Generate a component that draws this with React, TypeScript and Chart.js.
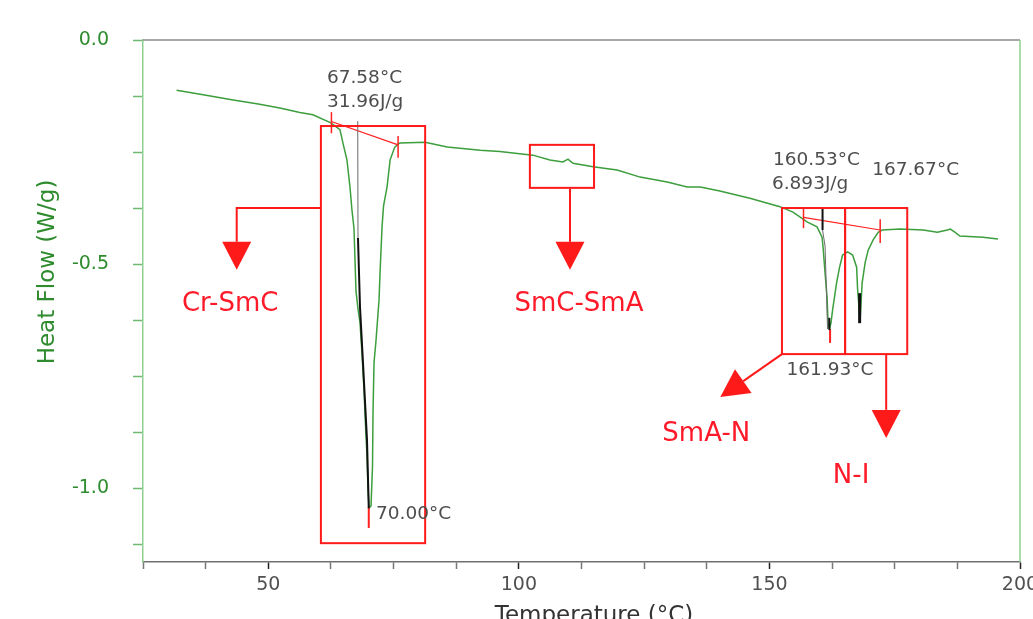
import React, { useEffect, useRef } from 'react';
import { Chart, registerables } from 'chart.js';

Chart.register(...registerables);

// ---- Data ----
const temperature = [
  31.7, 37.0, 43.0, 48.0, 52.3, 56.3, 58.9, 62.5, 64.3, 64.9, 65.7, 66.3, 66.7, 67.1,
  67.3, 67.5, 67.9, 68.3, 68.7, 69.1, 69.4, 69.7, 69.9, 70.1, 70.5, 70.8, 70.9, 71.1, 71.5,
  72.1, 72.3, 72.7, 73.0, 73.7, 74.3, 75.2, 75.9, 76.3, 81.3, 85.7, 92.3, 96.2, 102.8, 106.2,
  108.8, 109.8, 110.8, 114.8, 119.6, 124.2, 129.6, 133.6, 136.2, 140.1, 146.1, 152.1, 154.7,
  157.5, 159.5, 160.5, 160.7, 161.1, 161.5, 161.7, 162.0, 162.3, 162.6, 163.4, 164.0,
  164.6, 165.6, 166.6, 167.4, 167.6, 167.9, 168.1, 168.5, 169.1, 169.7, 170.7, 171.7,
  172.5, 176.1, 180.7, 183.5, 185.5, 186.1, 187.0, 188.0, 192.6, 195.6,
];
const heatFlow = [
  -0.112, -0.122, -0.134, -0.143, -0.152, -0.162, -0.167, -0.185, -0.2, -0.23, -0.268, -0.328, -0.38, -0.42,
  -0.49, -0.56, -0.6, -0.63, -0.7, -0.78, -0.86, -0.93, -1.0, -1.045, -1.04, -0.95, -0.83, -0.72, -0.67,
  -0.58, -0.52, -0.417, -0.37, -0.328, -0.268, -0.24, -0.232, -0.23, -0.228, -0.239, -0.246, -0.249, -0.257, -0.268,
  -0.272, -0.266, -0.275, -0.283, -0.29, -0.306, -0.317, -0.328, -0.328, -0.337, -0.353, -0.372, -0.384,
  -0.406, -0.417, -0.44, -0.462, -0.52, -0.574, -0.632, -0.645, -0.63, -0.603, -0.542, -0.507,
  -0.48, -0.473, -0.48, -0.507, -0.558, -0.6, -0.625, -0.542, -0.497, -0.469, -0.446, -0.429,
  -0.424, -0.422, -0.424, -0.429, -0.424, -0.422, -0.429, -0.4375, -0.44, -0.444,
];

const xTickLabels = [50, 100, 150, 200];
const yTickLabels = [0, -0.5, -1.0];

// Transition labels and annotation texts
const phaseLabels = ['Cr-SmC', 'SmC-SmA', 'SmA-N', 'N-I'];
const phaseLabelX = [42.4, 112.0, 137.4, 166.3];
const phaseLabelY = [-0.605, -0.605, -0.895, -0.989];

const infoTexts = ['67.58°C', '31.96J/g', '70.00°C', '160.53°C', '6.893J/g', '167.67°C', '161.93°C'];
const infoX = [61.7, 61.7, 71.5, 150.7, 150.5, 170.5, 153.4];
const infoY = [-0.096, -0.1496, -1.069, -0.279, -0.3326, -0.301, -0.748];

// Highlight boxes
const boxX0 = [60.5, 102.2, 152.5, 165.1];
const boxX1 = [81.3, 115.0, 165.1, 177.5];
const boxYTop = [-0.192, -0.234, -0.375, -0.375];
const boxYBottom = [-1.123, -0.33, -0.701, -0.701];

// Arrows (polyline in data units, head at the last point)
const arrowPaths: number[][][] = [
  [[60.5, -0.375], [43.7, -0.375], [43.7, -0.513]],
  [[110.2, -0.332], [110.2, -0.513]],
  [[152.5, -0.701], [140.2, -0.797]],
  [[173.3, -0.701], [173.3, -0.888]],
];

// Integration baselines and marker lines
const baselineX = [[62.6, 75.9], [156.8, 172.1]];
const baselineY = [[-0.182, -0.234], [-0.396, -0.424]];
const baselineTicks: number[][] = [
  [62.6, -0.161, -0.208], [75.9, -0.214, -0.263],
  [156.8, -0.375, -0.42], [172.1, -0.4, -0.453],
];
const peakTips: number[][] = [[70.05, -1.042, -1.089], [162.1, -0.645, -0.676]];
const grayMarkers: number[][][] = [
  [[67.85, -0.181], [67.9, -0.442]],
  [[160.6, -0.424], [161.1, -0.46], [161.6, -0.645]],
];
const blackMarkers: number[][][] = [
  [[67.9, -0.442], [68.3, -0.596], [68.9, -0.721], [69.7, -0.893], [70.05, -1.045]],
  [[160.6, -0.377], [160.6, -0.424]],
  [[161.95, -0.62], [161.95, -0.647]],
  [[168.0, -0.565], [168.0, -0.632]],
];

const FONT = "'DejaVu Sans', Verdana, sans-serif";

const annotationPlugin = {
  id: 'dscAnnotations',
  afterDatasetsDraw(chart: any) {
    const ctx = chart.ctx as CanvasRenderingContext2D;
    const xs = chart.scales.x;
    const ys = chart.scales.y;
    const px = (v: number) => xs.getPixelForValue(v);
    const py = (v: number) => ys.getPixelForValue(v);
    const area = chart.chartArea;
    ctx.save();

    // frame: top gray, right green
    ctx.lineWidth = 1.5;
    ctx.strokeStyle = '#8a8a8a';
    ctx.beginPath();
    ctx.moveTo(area.left, area.top);
    ctx.lineTo(area.right, area.top);
    ctx.stroke();
    ctx.strokeStyle = '#8fcf8f';
    ctx.beginPath();
    ctx.moveTo(area.right, area.top);
    ctx.lineTo(area.right, area.bottom);
    ctx.stroke();

    // integration baselines
    ctx.strokeStyle = '#ff2020';
    ctx.lineWidth = 1.2;
    baselineX.forEach((bx, i) => {
      ctx.beginPath();
      ctx.moveTo(px(bx[0]), py(baselineY[i][0]));
      ctx.lineTo(px(bx[1]), py(baselineY[i][1]));
      ctx.stroke();
    });
    ctx.lineWidth = 1.5;
    baselineTicks.forEach((t) => {
      ctx.beginPath();
      ctx.moveTo(px(t[0]), py(t[1]));
      ctx.lineTo(px(t[0]), py(t[2]));
      ctx.stroke();
    });
    ctx.lineWidth = 2;
    peakTips.forEach((t) => {
      ctx.beginPath();
      ctx.moveTo(px(t[0]), py(t[1]));
      ctx.lineTo(px(t[0]), py(t[2]));
      ctx.stroke();
    });

    // marker lines
    const poly = (pts: number[][]) => {
      ctx.beginPath();
      pts.forEach((p, i) => (i ? ctx.lineTo(px(p[0]), py(p[1])) : ctx.moveTo(px(p[0]), py(p[1]))));
      ctx.stroke();
    };
    ctx.strokeStyle = '#6a6a6a';
    ctx.lineWidth = 1;
    grayMarkers.forEach(poly);
    ctx.strokeStyle = '#111';
    blackMarkers.forEach((m, i) => {
      ctx.lineWidth = i === 3 ? 3 : 2;
      poly(m);
    });

    // boxes
    ctx.strokeStyle = '#ff1a1a';
    ctx.lineWidth = 2;
    boxX0.forEach((x0, i) => {
      const l = px(x0), r = px(boxX1[i]), t = py(boxYTop[i]), b = py(boxYBottom[i]);
      ctx.strokeRect(l, t, r - l, b - t);
    });

    // arrows
    ctx.fillStyle = '#ff1a1a';
    arrowPaths.forEach((path) => {
      const pts = path.map((p) => [px(p[0]), py(p[1])]);
      const n = pts.length;
      const tip = pts[n - 1];
      const prev = pts[n - 2];
      const dx = tip[0] - prev[0], dy = tip[1] - prev[1];
      const len = Math.hypot(dx, dy);
      const ux = dx / len, uy = dy / len;
      const headLen = 28, halfW = 14.5;
      const bx = tip[0] - ux * headLen, by = tip[1] - uy * headLen;
      ctx.beginPath();
      pts.forEach((p, i) => {
        if (i === n - 1) ctx.lineTo(bx, by);
        else if (i === 0) ctx.moveTo(p[0], p[1]);
        else ctx.lineTo(p[0], p[1]);
      });
      ctx.stroke();
      ctx.beginPath();
      ctx.moveTo(tip[0], tip[1]);
      ctx.lineTo(bx - uy * halfW, by + ux * halfW);
      ctx.lineTo(bx + uy * halfW, by - ux * halfW);
      ctx.closePath();
      ctx.fill();
    });

    // phase labels
    ctx.fillStyle = '#ff1a2a';
    ctx.font = `26px ${FONT}`;
    ctx.textAlign = 'center';
    ctx.textBaseline = 'alphabetic';
    phaseLabels.forEach((s, i) => ctx.fillText(s, px(phaseLabelX[i]), py(phaseLabelY[i])));

    // info texts
    ctx.fillStyle = '#4d4d4d';
    ctx.font = `18.5px ${FONT}`;
    ctx.textAlign = 'left';
    infoTexts.forEach((s, i) => ctx.fillText(s, px(infoX[i]), py(infoY[i])));

    // axis titles
    ctx.fillStyle = '#2e8b2e';
    ctx.font = `23px ${FONT}`;
    ctx.textAlign = 'center';
    ctx.textBaseline = 'middle';
    ctx.save();
    ctx.translate(48, 272);
    ctx.rotate(-Math.PI / 2);
    ctx.fillText('Heat Flow (W/g)', 0, 0);
    ctx.restore();
    ctx.fillStyle = '#333';
    ctx.textBaseline = 'alphabetic';
    ctx.fillText('Temperature (°C)', 594, 622);

    ctx.restore();
  },
};

export default function App() {
  const canvasRef = useRef<HTMLCanvasElement | null>(null);

  useEffect(() => {
    document.body.style.margin = '0';
    const canvas = canvasRef.current;
    if (!canvas) return;
    const points = temperature.map((t, i) => ({ x: t, y: heatFlow[i] }));
    const chart = new Chart(canvas, {
      type: 'line',
      data: {
        datasets: [
          {
            data: points,
            borderColor: '#3c9e3c',
            borderWidth: 1.5,
            pointRadius: 0,
            fill: false,
            tension: 0,
          },
        ],
      },
      options: {
        responsive: false,
        animation: false,
        events: [],
        layout: { padding: { top: 40, right: 13, left: 0, bottom: 0 } },
        plugins: { legend: { display: false }, tooltip: { enabled: false }, title: { display: false } },
        scales: {
          x: {
            type: 'linear',
            min: 25,
            max: 200,
            border: { color: '#707070', width: 1.5 },
            grid: {
              drawOnChartArea: false,
              drawTicks: true,
              tickLength: 7,
              tickWidth: 1.5,
              tickColor: (c: any) => (xTickLabels.includes(c.tick?.value) ? '#222' : '#777'),
            },
            ticks: {
              stepSize: 12.5,
              autoSkip: false,
              maxRotation: 0,
              color: '#505050',
              padding: 5,
              font: { family: FONT, size: 19 },
              callback: (v: any) => (xTickLabels.includes(Number(v)) ? String(v) : ''),
            },
            afterFit: (s: any) => {
              s.height = 57;
              s.paddingLeft = 0;
              s.paddingRight = 0;
            },
          },
          y: {
            type: 'linear',
            min: -1.165,
            max: 0,
            border: { color: '#8fcf8f', width: 1.5 },
            grid: {
              drawOnChartArea: false,
              drawTicks: true,
              tickLength: 10,
              tickWidth: 1.5,
              tickColor: '#6fb86f',
            },
            ticks: {
              stepSize: 0.125,
              includeBounds: false,
              autoSkip: false,
              color: '#2e8b2e',
              padding: 24,
              font: { family: FONT, size: 19 },
              callback: (v: any) => {
                const n = Number(v);
                return yTickLabels.some((t) => Math.abs(t - n) < 1e-6) ? n.toFixed(1) : '';
              },
            },
            afterFit: (s: any) => {
              s.width = 143;
            },
          },
        },
      },
      plugins: [annotationPlugin],
    } as any);
    return () => chart.destroy();
  }, []);

  return (
    <div style={{ width: 1033, height: 619, overflow: 'hidden', background: '#fff' }}>
      <canvas ref={canvasRef} width={1033} height={619} />
    </div>
  );
}
